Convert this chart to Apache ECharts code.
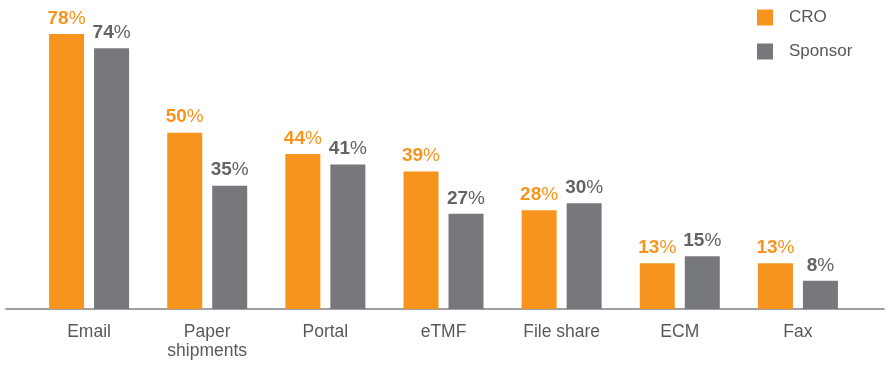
<!DOCTYPE html>
<html><head><meta charset="utf-8">
<script src="https://cdn.jsdelivr.net/npm/echarts@6/dist/echarts.min.js"></script>
<style>html,body{margin:0;padding:0;background:#fff}#c{width:890px;height:372px}</style>
</head><body><div id="c"></div>
<script>
const categories = ['Email', 'Paper\nshipments', 'Portal', 'eTMF', 'File share', 'ECM', 'Fax'];
const croValues = [78, 50, 44, 39, 28, 13, 13];
const sponsorValues = [74, 35, 41, 27, 30, 15, 8];
const seriesNames = ['CRO', 'Sponsor'];

const ORANGE = '#F7941D', GRAY_BAR = '#77787B', GRAY_TXT = '#636466', TXT = '#58595B';
const FONT = 'Liberation Sans, Arial, sans-serif';

function lbl(color) {
  return {
    show: true, position: 'top', distance: 6,
    formatter: p => '{v|' + p.value + '}{p|%}',
    rich: {
      v: { fontFamily: FONT, fontSize: 19, fontWeight: 'bold', color: color },
      p: { fontFamily: FONT, fontSize: 19, color: color }
    }
  };
}

const chart = echarts.init(document.getElementById('c'), null, { renderer: 'canvas' });
chart.setOption({
  animation: false,
  backgroundColor: '#fff',
  legend: {
    orient: 'vertical', left: 752, top: 4, itemWidth: 16, itemHeight: 16, itemGap: 17,
    icon: 'rect',
    textStyle: { fontFamily: FONT, fontSize: 17, color: TXT, padding: [0, 0, 0, 11] },
    data: seriesNames
  },
  grid: [
    { left: 30, right: 33, top: 27, bottom: 63 },
    { left: 6, right: 6, top: 27, bottom: 63 }
  ],
  xAxis: [
    {
      type: 'category', data: categories, gridIndex: 0,
      axisLine: { show: false }, axisTick: { show: false },
      axisLabel: { fontFamily: FONT, fontSize: 17.5, color: TXT, margin: 14, lineHeight: 19 }
    },
    {
      type: 'value', gridIndex: 1, min: 0, max: 1,
      axisLine: { show: true, onZero: false, lineStyle: { color: '#9D9FA2', width: 2 } },
      axisTick: { show: false }, axisLabel: { show: false }, splitLine: { show: false }
    }
  ],
  yAxis: [
    { type: 'value', gridIndex: 0, min: 0, max: 80, show: false },
    { type: 'value', gridIndex: 1, min: 0, max: 1, show: false }
  ],
  series: [
    {
      name: seriesNames[0], type: 'bar', data: croValues, barWidth: 35, barGap: '28.6%',
      itemStyle: { color: ORANGE }, label: lbl(ORANGE)
    },
    {
      name: seriesNames[1], type: 'bar', data: sponsorValues, barWidth: 35, barGap: '28.6%',
      itemStyle: { color: GRAY_BAR }, label: lbl(GRAY_TXT)
    }
  ]
});
</script></body></html>
